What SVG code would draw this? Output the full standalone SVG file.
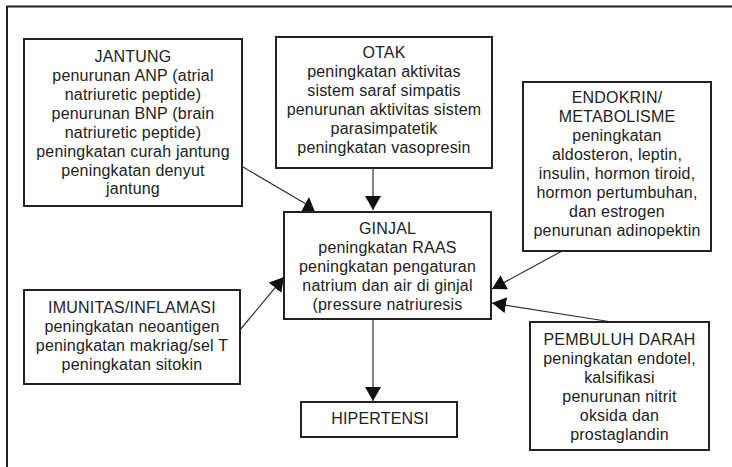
<svg xmlns="http://www.w3.org/2000/svg" width="732" height="467" viewBox="0 0 732 467">
<style>
.box{fill:#fff;stroke:#222;stroke-width:2}
.t{font-family:"Liberation Sans",Arial,sans-serif;font-size:16px;letter-spacing:0.2px;fill:#222;text-anchor:middle}
.c{stroke:#333;stroke-width:1.2;fill:none}
.ah{fill:#111}
</style>
<defs>
<marker id="arr" markerUnits="userSpaceOnUse" markerWidth="14" markerHeight="16" viewBox="0 0 14 16" refX="14" refY="8" orient="auto">
<path d="M0,0 L14,8 L0,16 z" fill="#111"/>
</marker>
</defs>
<rect width="732" height="467" fill="#fff"/>
<path d="M7,467 V6.5 H732" fill="none" stroke="#222" stroke-width="2"/>
<g id="connectors">
<line class="c" x1="243" y1="167" x2="306" y2="204"/>
<polygon class="ah" points="309,197 301,212 315,212"/>
<line class="c" x1="373" y1="168" x2="373" y2="210" marker-end="url(#arr)"/>
<line class="c" x1="373" y1="319" x2="373" y2="401" marker-end="url(#arr)"/>
<line class="c" x1="562" y1="251" x2="492" y2="289" marker-end="url(#arr)"/>
<line class="c" x1="612" y1="322" x2="492" y2="303" marker-end="url(#arr)"/>
<line class="c" x1="240" y1="330" x2="284" y2="277" marker-end="url(#arr)"/>
</g>
<g id="jantung">
<rect class="box" x="24" y="39" width="218" height="167"/>
<text class="t" x="133" y="62">JANTUNG</text>
<text class="t" x="133" y="81">penurunan ANP (atrial</text>
<text class="t" x="133" y="100">natriuretic peptide)</text>
<text class="t" x="133" y="119">penurunan BNP (brain</text>
<text class="t" x="133" y="138">natriuretic peptide)</text>
<text class="t" x="133" y="157">peningkatan curah jantung</text>
<text class="t" x="133" y="176">peningkatan denyut</text>
<text class="t" x="133" y="194">jantung</text>
</g>
<g id="otak">
<rect class="box" x="276" y="37" width="216" height="131"/>
<text class="t" x="384" y="57.5">OTAK</text>
<text class="t" x="384" y="76.5">peningkatan aktivitas</text>
<text class="t" x="384" y="95.5">sistem saraf simpatis</text>
<text class="t" x="384" y="114.5">penurunan aktivitas sistem</text>
<text class="t" x="384" y="133.5">parasimpatetik</text>
<text class="t" x="384" y="152.5">peningkatan vasopresin</text>
</g>
<g id="endokrin">
<rect class="box" x="523" y="82" width="188" height="169"/>
<text class="t" x="617" y="103">ENDOKRIN/</text>
<text class="t" x="617" y="122">METABOLISME</text>
<text class="t" x="617" y="141">peningkatan</text>
<text class="t" x="617" y="160">aldosteron, leptin,</text>
<text class="t" x="617" y="179">insulin, hormon tiroid,</text>
<text class="t" x="617" y="198">hormon pertumbuhan,</text>
<text class="t" x="617" y="217">dan estrogen</text>
<text class="t" x="617" y="236">penurunan adinopektin</text>
</g>
<g id="ginjal">
<rect class="box" x="284" y="212" width="207" height="107"/>
<text class="t" x="387.5" y="234">GINJAL</text>
<text class="t" x="387.5" y="253">peningkatan RAAS</text>
<text class="t" x="387.5" y="272">peningkatan pengaturan</text>
<text class="t" x="387.5" y="291">natrium dan air di ginjal</text>
<text class="t" x="387.5" y="310">(pressure natriuresis</text>
</g>
<g id="imunitas">
<rect class="box" x="24" y="290" width="216" height="94"/>
<text class="t" x="132" y="313">IMUNITAS/INFLAMASI</text>
<text class="t" x="132" y="332">peningkatan neoantigen</text>
<text class="t" x="132" y="351">peningkatan makriag/sel T</text>
<text class="t" x="132" y="370">peningkatan sitokin</text>
</g>
<g id="pembuluh">
<rect class="box" x="530" y="322" width="179" height="128"/>
<text class="t" x="619.5" y="345">PEMBULUH DARAH</text>
<text class="t" x="619.5" y="364">peningkatan endotel,</text>
<text class="t" x="619.5" y="383">kalsifikasi</text>
<text class="t" x="619.5" y="402">penurunan nitrit</text>
<text class="t" x="619.5" y="421">oksida dan</text>
<text class="t" x="619.5" y="440">prostaglandin</text>
</g>
<g id="hipertensi">
<rect class="box" x="301" y="402" width="156" height="35"/>
<text class="t" x="380" y="424">HIPERTENSI</text>
</g>
</svg>
